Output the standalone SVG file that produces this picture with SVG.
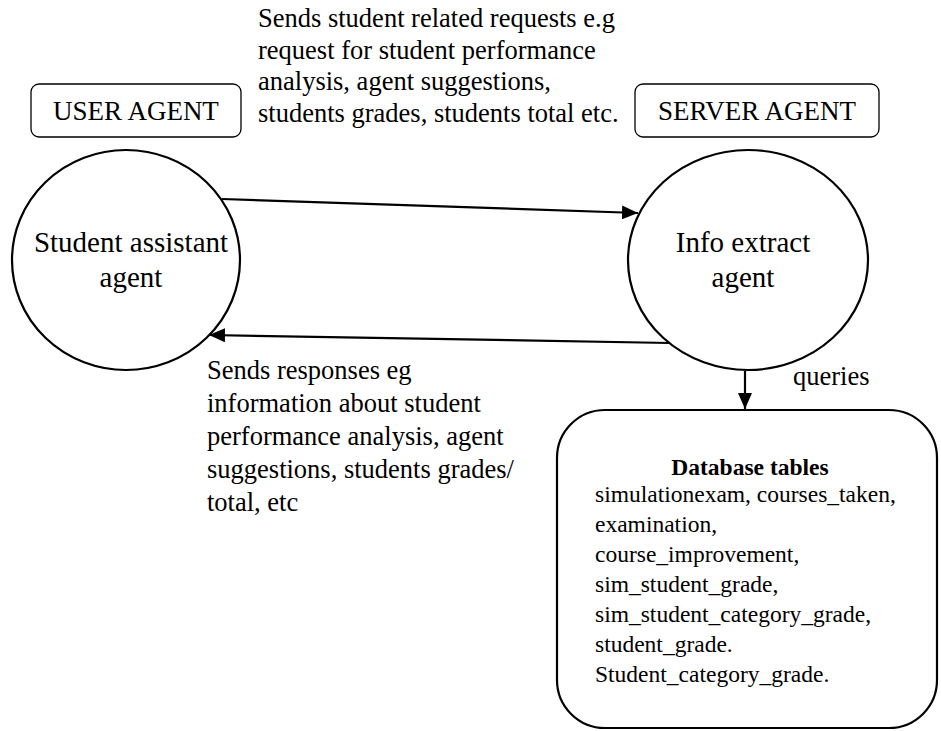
<svg xmlns="http://www.w3.org/2000/svg" width="941" height="731" viewBox="0 0 941 731" font-family="'Liberation Serif', 'Times New Roman', 'DejaVu Serif', serif">
  <defs>
    <marker id="arrow" viewBox="0 0 16 14" refX="16" refY="7" markerWidth="16" markerHeight="14" markerUnits="userSpaceOnUse" orient="auto">
      <path d="M0,0 L16,7 L0,14 Z" fill="#000"/>
    </marker>
    <style>
      .shape { fill: #fff; stroke: #000; stroke-width: 2.2; }
      .tag { fill: #fff; stroke: #000; stroke-width: 1.3; }
      .edge { fill: none; stroke: #000; stroke-width: 2.2; marker-end: url(#arrow); }
      .label { font-size: 26.5px; }
      .node { font-size: 29px; text-anchor: middle; }
      .tagtext { font-size: 27px; text-anchor: middle; }
      .db { font-size: 23.5px; }
    </style>
  </defs>

  <rect width="941" height="731" fill="#fff"/>

  <!-- role tags -->
  <g id="user-agent-tag">
    <rect class="tag" x="31" y="84" width="210" height="53" rx="8"/>
    <text class="tagtext" x="136" y="120">USER AGENT</text>
  </g>
  <g id="server-agent-tag">
    <rect class="tag" x="635" y="84" width="244" height="53" rx="8"/>
    <text class="tagtext" x="757" y="120">SERVER AGENT</text>
  </g>

  <!-- agents -->
  <g id="student-assistant-agent">
    <ellipse class="shape" cx="126" cy="260" rx="114" ry="110"/>
    <text class="node" x="131" y="252">Student assistant</text>
    <text class="node" x="131" y="287">agent</text>
  </g>
  <g id="info-extract-agent">
    <ellipse class="shape" cx="748" cy="260" rx="120" ry="110"/>
    <text class="node" x="743" y="252">Info extract</text>
    <text class="node" x="743" y="287">agent</text>
  </g>

  <!-- database -->
  <g id="database-tables">
    <rect class="shape" x="557" y="410" width="380" height="318" rx="48"/>
    <text class="db" x="750" y="475" text-anchor="middle" font-weight="bold">Database tables</text>
    <text class="db" x="595" y="502">simulationexam, courses_taken,</text>
    <text class="db" x="595" y="532">examination,</text>
    <text class="db" x="595" y="562">course_improvement,</text>
    <text class="db" x="595" y="592">sim_student_grade,</text>
    <text class="db" x="595" y="622">sim_student_category_grade,</text>
    <text class="db" x="595" y="652">student_grade.</text>
    <text class="db" x="595" y="682">Student_category_grade.</text>
  </g>

  <!-- connectors -->
  <g id="connectors">
    <line class="edge" x1="222" y1="199" x2="638" y2="213"/>
    <line class="edge" x1="670" y1="343" x2="209" y2="335"/>
    <line class="edge" x1="745" y1="371" x2="745" y2="409"/>
  </g>

  <!-- connector labels -->
  <g id="request-label">
    <text class="label" x="258" y="27">Sends student related requests e.g</text>
    <text class="label" x="258" y="59">request for student performance</text>
    <text class="label" x="258" y="90">analysis, agent suggestions,</text>
    <text class="label" x="258" y="122">students grades, students total etc.</text>
  </g>
  <g id="response-label">
    <text class="label" x="207" y="379">Sends responses eg</text>
    <text class="label" x="207" y="412">information about student</text>
    <text class="label" x="207" y="445">performance analysis, agent</text>
    <text class="label" x="207" y="478">suggestions, students grades/</text>
    <text class="label" x="207" y="511">total, etc</text>
  </g>
  <g id="queries-label">
    <text class="label" x="793" y="385">queries</text>
  </g>
</svg>
